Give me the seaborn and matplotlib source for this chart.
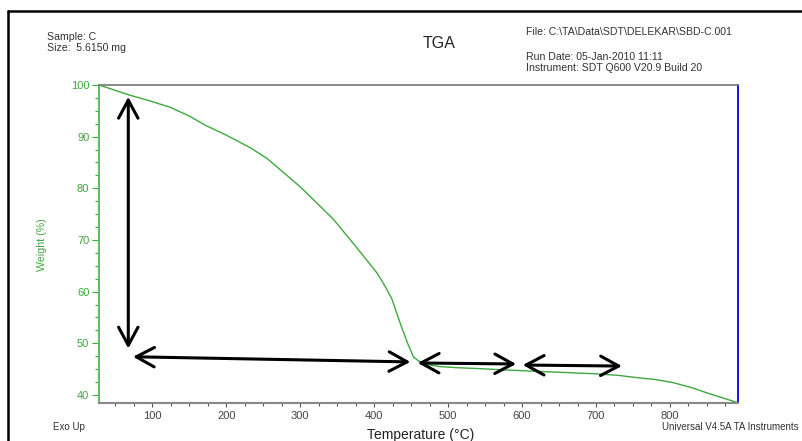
import numpy as np
import seaborn as sns
import matplotlib.pyplot as plt
from matplotlib.lines import Line2D
from matplotlib.ticker import MultipleLocator

sns.set_style("ticks")
plt.rcParams['font.family'] = ['Liberation Sans', 'DejaVu Sans']

# TGA curve
temp = [28, 45, 68, 95, 124, 150, 172, 200, 232, 255, 278, 300, 323, 345, 368, 385, 404,
        415, 424, 435, 445, 453, 460, 466, 475, 489, 510, 543, 570, 600, 650, 700, 730,
        759, 780, 804, 830, 850, 870, 892]
weight = [100, 99.2, 98.1, 97.0, 95.7, 94.0, 92.2, 90.3, 87.9, 85.8, 83.0, 80.3, 77.1, 74.0,
          70.0, 67.0, 63.6, 61.0, 58.6, 54.0, 50.1, 47.4, 46.6, 46.2, 45.8, 45.5, 45.3, 45.1,
          44.9, 44.7, 44.4, 44.1, 43.8, 43.3, 43.0, 42.4, 41.4, 40.4, 39.5, 38.5]

# hand drawn arrows (start, end) in data units
arrow_start = [(67.6, 97.7), (74, 47.4), (459, 46.2), (601, 45.8)]
arrow_end = [(67.6, 49.0), (449, 46.4), (592, 46.0), (735, 45.6)]

green = '#3ea83e'
W, H = 803, 441

fig = plt.figure(figsize=(8.03, 4.41), dpi=100)
ax = fig.add_axes([99/W, 1-403/H, (738-99)/W, (403-85)/H])

sns.lineplot(x=temp, y=weight, ax=ax, color=green, lw=1.0)

ax.set_xlim(28, 892)
ax.set_ylim(38.45, 100)
ax.xaxis.set_major_locator(MultipleLocator(100))
ax.xaxis.set_minor_locator(MultipleLocator(25))
ax.yaxis.set_major_locator(MultipleLocator(10))
ax.yaxis.set_minor_locator(MultipleLocator(2.5))

ax.tick_params(axis='y', which='major', length=5, width=0.8, color=green, labelcolor=green,
               labelsize=8, pad=2)
ax.tick_params(axis='y', which='minor', length=3, width=0.8, color=green)
ax.tick_params(axis='x', which='major', length=3, width=0.8, color='#555555', labelcolor='#444444',
               labelsize=8, pad=3)
ax.tick_params(axis='x', which='minor', length=2, width=0.8, color='#555555')

ax.spines['left'].set_color('#66bb66')
ax.spines['left'].set_linewidth(1.5)
ax.spines['bottom'].set_color('#888888')
ax.spines['bottom'].set_linewidth(1.5)
ax.spines['top'].set_color('#777777')
ax.spines['top'].set_linewidth(1.2)
ax.spines['right'].set_visible(True)
ax.spines['right'].set_color('#0000ff')
ax.spines['right'].set_linewidth(1.3)

ax.set_xlabel('Temperature (°C)', fontsize=10, color='#222222')
ax.xaxis.set_label_coords((421-99)/(738-99), -(428-403)/(403-85))
ax.set_ylabel('Weight (%)', fontsize=7.7, color=green)
ax.yaxis.set_label_coords(-(99-47)/(738-99), (403-245)/(403-85))

for s, e in zip(arrow_start, arrow_end):
    ax.annotate('', xy=e, xytext=s,
                arrowprops=dict(arrowstyle='<->,head_length=13,head_width=7',
                                mutation_scale=1, lw=2.2, color='black',
                                shrinkA=0, shrinkB=0))

# header and footer text
hdr = dict(fontsize=7.6, color='#333333', va='center')
fig.text(47/W, 1-37/H, 'Sample: C', **hdr)
fig.text(47/W, 1-48/H, 'Size:  5.6150 mg', **hdr)
fig.text(423/W, 1-43/H, 'TGA', fontsize=11.5, color='#222222', va='center')
fig.text(526/W, 1-32/H, 'File: C:\\TA\\Data\\SDT\\DELEKAR\\SBD-C.001', **hdr)
fig.text(526/W, 1-57/H, 'Run Date: 05-Jan-2010 11:11', **hdr)
fig.text(526/W, 1-68/H, 'Instrument: SDT Q600 V20.9 Build 20', **hdr)
fig.text(53/W, 1-427/H, 'Exo Up', fontsize=7, color='#333333', va='center')
fig.text(662/W, 1-427/H, 'Universal V4.5A TA Instruments', fontsize=7, color='#333333',
         va='center')

# outer frame (left and top edges only are visible)
fig.add_artist(Line2D([8/W, 8/W], [0, 1-11/H], transform=fig.transFigure, color='black', lw=1.8))
fig.add_artist(Line2D([8/W, 1], [1-11/H, 1-11/H], transform=fig.transFigure, color='black', lw=1.8))

fig.savefig('out.png', dpi=100)
